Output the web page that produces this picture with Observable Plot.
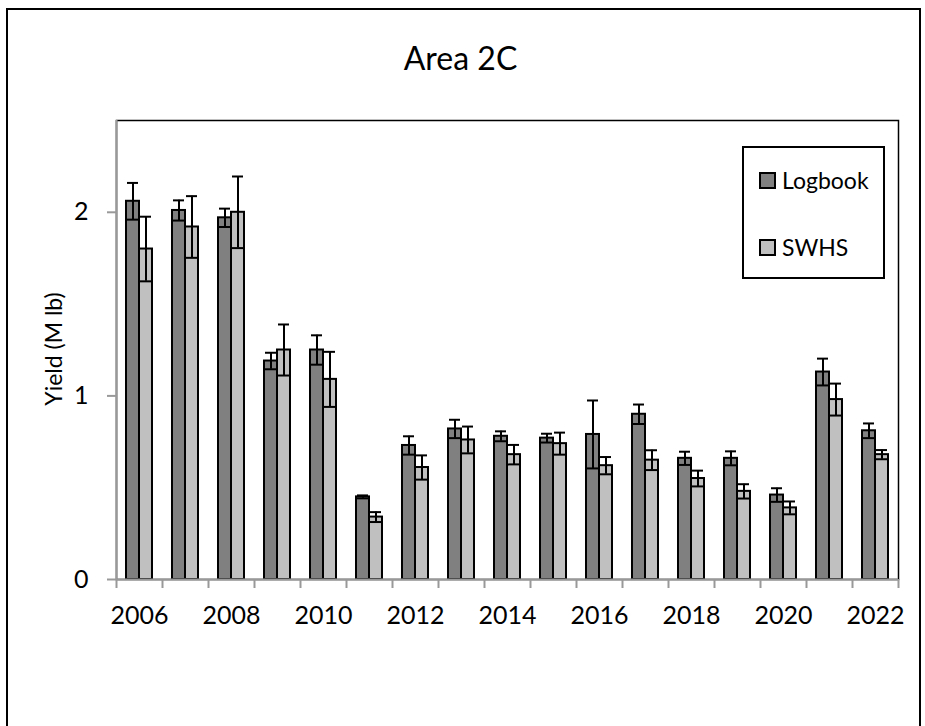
<!DOCTYPE html>
<html>
<head>
<meta charset="utf-8">
<script src="https://cdn.jsdelivr.net/npm/d3@7"></script>
<script src="https://cdn.jsdelivr.net/npm/@observablehq/plot@0.6"></script>
<style>
  html, body { margin: 0; padding: 0; background: white; }
  #wrap { position: relative; width: 925px; height: 726px; overflow: hidden; font-family: Lato, "Open Sans", sans-serif; }
  #border { position: absolute; left: 6px; top: 8px; width: 911px; height: 800px; border: 2px solid black; pointer-events: none; }
  #legend { position: absolute; left: 742px; top: 146px; width: 139px; height: 129px; border: 2px solid black; background: white; }
  .item { position: absolute; left: 15px; display: flex; align-items: center; font-size: 23px; line-height: 1; }
  .sw { width: 13px; height: 13px; border: 2px solid black; margin-right: 6px; }
  #ylabel { position: absolute; left: 53px; top: 349px; transform: translate(-50%, -50%) rotate(-90deg); font-size: 23px; white-space: nowrap; line-height: 1; }
</style>
</head>
<body>
<div id="wrap">
  <div id="chart"></div>
  <div id="border"></div>
  <div id="ylabel"></div>
  <div id="legend">
    <div class="item" style="top:21px"><div class="sw" style="background:#808080"></div>Logbook</div>
    <div class="item" style="top:88px"><div class="sw" style="background:#c0c0c0"></div>SWHS</div>
  </div>
</div>
<script>
const years = [2006, 2007, 2008, 2009, 2010, 2011, 2012, 2013, 2014, 2015, 2016, 2017, 2018, 2019, 2020, 2021, 2022];
const labelYears = [2006, 2008, 2010, 2012, 2014, 2016, 2018, 2020, 2022];
const logbook    = [2.06, 2.01, 1.97, 1.19, 1.25, 0.45, 0.73, 0.82, 0.78, 0.77, 0.79, 0.90, 0.66, 0.66, 0.46, 1.13, 0.81];
const logbookErr = [0.10, 0.055, 0.05, 0.045, 0.08, 0.008, 0.05, 0.05, 0.027, 0.024, 0.185, 0.053, 0.036, 0.038, 0.037, 0.073, 0.04];
const swhs       = [1.80, 1.92, 2.00, 1.25, 1.09, 0.34, 0.61, 0.76, 0.68, 0.74, 0.62, 0.65, 0.55, 0.48, 0.39, 0.98, 0.68];
const swhsErr    = [0.176, 0.168, 0.195, 0.139, 0.15, 0.027, 0.066, 0.073, 0.053, 0.06, 0.047, 0.054, 0.043, 0.039, 0.035, 0.087, 0.025];
const yTicks = [0, 1, 2];
const title = "Area 2C";
const yLabel = "Yield (M lb)";

document.getElementById("ylabel").textContent = yLabel;

const logData = years.map((year, i) => ({year, value: logbook[i], err: logbookErr[i]}));
const swhsData = years.map((year, i) => ({year, value: swhs[i], err: swhsErr[i]}));

function errorMarks(data, side) {
  const dx = side === "left" ? -6.5 : 6.5;
  const il = side === "left" ? 11 : 24;
  const ir = side === "left" ? 24 : 11;
  return [
    Plot.ruleX(data, {x: "year", y1: d => d.value - d.err, y2: d => d.value + d.err, dx, stroke: "black", strokeWidth: 2}),
    Plot.tickY(data, {x: "year", y: d => d.value + d.err, insetLeft: il, insetRight: ir, stroke: "black", strokeWidth: 2}),
    Plot.tickY(data, {x: "year", y: d => d.value - d.err, insetLeft: il, insetRight: ir, stroke: "black", strokeWidth: 2})
  ];
}

const chart = Plot.plot({
  width: 925,
  height: 726,
  marginLeft: 116,
  marginRight: 27,
  marginTop: 120,
  marginBottom: 147,
  style: {fontFamily: "Lato, 'Open Sans', sans-serif", background: "transparent", overflow: "visible", color: "black"},
  x: {type: "band", domain: years, padding: 0, axis: null},
  y: {domain: [0, 2.5], axis: null},
  marks: [
    Plot.frame({stroke: "black", strokeWidth: 1.5}),
    Plot.barY(logData, {x: "year", y: "value", fill: "#808080", stroke: "black", strokeWidth: 2, insetLeft: 10, insetRight: 23}),
    Plot.barY(swhsData, {x: "year", y: "value", fill: "#c0c0c0", stroke: "black", strokeWidth: 2, insetLeft: 23, insetRight: 10}),
    ...errorMarks(logData, "left"),
    ...errorMarks(swhsData, "right"),
    Plot.ruleY([0], {stroke: "#999", strokeWidth: 2}),
    Plot.ruleX([years[0]], {y1: 0, y2: 2.5, dx: -23, stroke: "#999", strokeWidth: 2}),
    Plot.axisX({ticks: years, tickFormat: () => "", tickSize: 9, dx: -23, stroke: "#999", strokeWidth: 2, label: null}),
    Plot.axisX({ticks: [years[years.length - 1]], tickFormat: () => "", tickSize: 9, dx: 23, stroke: "#999", strokeWidth: 2, label: null}),
    Plot.axisX({ticks: labelYears, tickFormat: d => String(d), tickSize: 0, tickPadding: 27, fontSize: 25, label: null, fill: "black"}),
    Plot.axisY({ticks: yTicks, tickFormat: () => "", tickSize: 9, stroke: "#999", strokeWidth: 2, label: null}),
    Plot.axisY({ticks: yTicks, tickFormat: d => String(d), tickSize: 0, tickPadding: 28, fontSize: 25, label: null, fill: "black"}),
    Plot.text([title], {frameAnchor: "top", text: d => d, dx: -47, dy: -73, fontSize: 32, fill: "black"})
  ]
});
document.getElementById("chart").append(chart);
</script>
</body>
</html>
